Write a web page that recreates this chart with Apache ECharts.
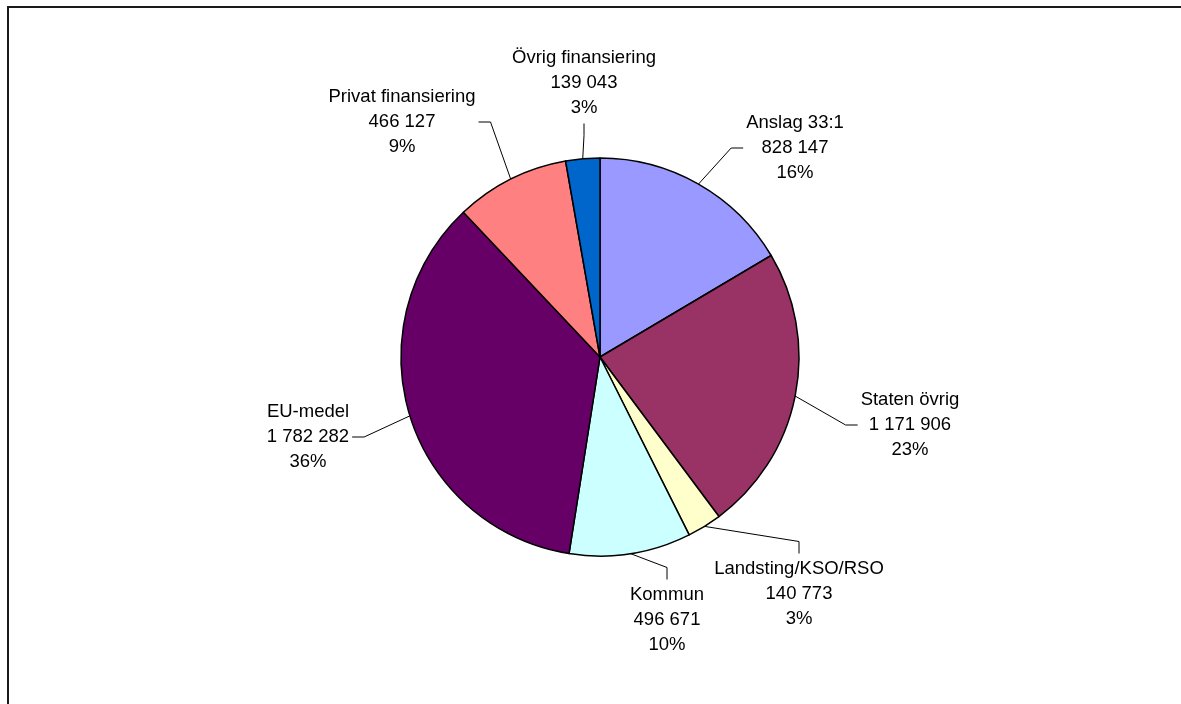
<!DOCTYPE html>
<html>
<head>
<meta charset="utf-8">
<script src="https://cdn.jsdelivr.net/npm/echarts@6/dist/echarts.min.js"></script>
<style>
  html, body { margin: 0; padding: 0; background: #fff; }
  #chart { width: 1181px; height: 704px; }
</style>
</head>
<body>
<div id="chart"></div>
<script>
// ---- Data ----
const categories = ['Anslag 33:1', 'Staten övrig', 'Landsting/KSO/RSO', 'Kommun', 'EU-medel', 'Privat finansiering', 'Övrig finansiering'];
const values = [828147, 1171906, 140773, 496671, 1782282, 466127, 139043];
const percentLabels = ['16%', '23%', '3%', '10%', '36%', '9%', '3%'];
const colors = ['#9999FF', '#993366', '#FFFFCC', '#CCFFFF', '#660066', '#FF8080', '#0066CC'];

// ---- Label placement (layout only) ----
const labelCenters = [
  [795, 148], [910, 425], [799, 594], [667, 620], [308, 437], [402, 122], [584, 83]
];
const labelSides = ['left', 'left', 'top', 'top', 'right', 'right', 'bottom'];
const ELBOW = 12;
const GAP = 3;
const FONT_SIZE = 18.5;
const LINE_H = 25;
const FONT_FAMILY = '"Liberation Sans", Arial, sans-serif';

function fmt(n) {
  return String(n).replace(/\B(?=(\d{3})+(?!\d))/g, ' ');
}
function labelText(i) {
  return categories[i] + '\n' + fmt(values[i]) + '\n' + percentLabels[i];
}
const measureCtx = document.createElement('canvas').getContext('2d');
measureCtx.font = FONT_SIZE + 'px ' + FONT_FAMILY;
function blockSize(i) {
  const lines = labelText(i).split('\n');
  let w = 0;
  lines.forEach(l => { w = Math.max(w, measureCtx.measureText(l).width); });
  return [w, lines.length * LINE_H];
}

const chart = echarts.init(document.getElementById('chart'), null, { renderer: 'canvas' });
chart.setOption({
  backgroundColor: '#ffffff',
  animation: false,
  graphic: [{
    type: 'rect',
    shape: { x: 8, y: 7, width: 1300, height: 800 },
    style: { fill: 'none', stroke: '#1a1a1a', lineWidth: 2 },
    silent: true,
    z: 100
  }],
  series: [{
    type: 'pie',
    center: [600, 357],
    radius: 199,
    startAngle: 90,
    clockwise: true,
    avoidLabelOverlap: false,
    emphasis: { disabled: true },
    data: categories.map((c, i) => ({ name: c, value: values[i], itemStyle: { color: colors[i] } })),
    itemStyle: { borderColor: '#000', borderWidth: 1.5 },
    label: {
      show: true,
      position: 'outside',
      fontFamily: FONT_FAMILY,
      fontSize: FONT_SIZE,
      lineHeight: LINE_H,
      color: '#000',
      formatter: (p) => labelText(p.dataIndex)
    },
    labelLine: {
      show: true,
      length: 15,
      length2: 12,
      smooth: false,
      minTurnAngle: 0,
      lineStyle: { color: '#000', width: 1 }
    },
    labelLayout: (p) => {
      const i = p.dataIndex;
      const cx = labelCenters[i][0], cy = labelCenters[i][1];
      const sz = blockSize(i);
      const w = sz[0], h = sz[1];
      let end, elbow;
      switch (labelSides[i]) {
        case 'left':   end = [cx - w / 2 - GAP, cy]; elbow = [end[0] - ELBOW, cy]; break;
        case 'right':  end = [cx + w / 2 + GAP, cy]; elbow = [end[0] + ELBOW, cy]; break;
        case 'top':    end = [cx, cy - h / 2 - GAP]; elbow = [cx, end[1] - ELBOW]; break;
        default:       end = [cx, cy + h / 2 + GAP]; elbow = [cx, end[1] + ELBOW]; break;
      }
      const start = (p.labelLinePoints && p.labelLinePoints[0]) ? p.labelLinePoints[0].slice() : elbow;
      return {
        x: cx,
        y: cy,
        align: 'center',
        verticalAlign: 'middle',
        labelLinePoints: [start, elbow, end]
      };
    }
  }]
});
</script>
</body>
</html>
